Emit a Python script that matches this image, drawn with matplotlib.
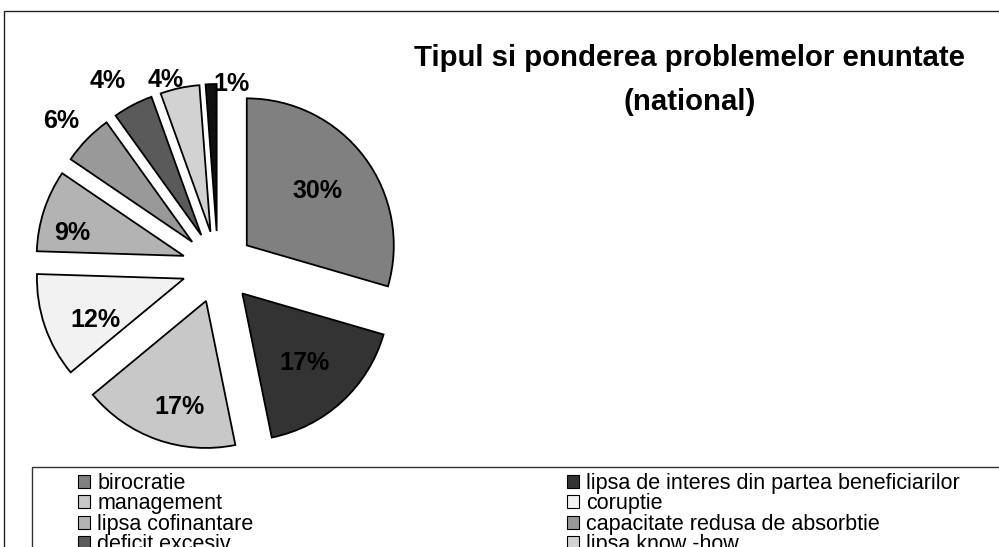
import numpy as np
import matplotlib
matplotlib.use("Agg")
import matplotlib.pyplot as plt
from matplotlib.patches import Rectangle, Patch

categories = ["birocratie", "lipsa de interes din partea beneficiarilor", "management", "coruptie",
              "lipsa cofinantare", "capacitate redusa de absorbtie", "deficit excesiv",
              "lipsa know -how", "altele"]
shares = [29.5, 17.3, 17.2, 11.5, 9.0, 5.6, 4.4, 4.3, 1.2]
colors = ["#808080", "#333333", "#c8c8c8", "#f2f2f2", "#b3b3b3", "#999999", "#5a5a5a", "#d2d2d2", "#101010"]
title = "Tipul si ponderea problemelor enuntate\n(national)"

# label placement: distance (fraction of radius) from wedge centre, angle offset (deg)
label_dist = [0.62, 0.62, 0.73, 0.66, 0.78, 1.22, 1.24, 1.09, 1.02]
label_rot = [2, 0, 5, 5, 5, 1, 3, 4, -8]

FONT = ["Liberation Sans", "DejaVu Sans"]
W, H = 999, 547
fig = plt.figure(figsize=(W / 100, H / 100), dpi=100)
ax = fig.add_axes([0, 0, 1, 1])
R = 147
cx, cy = 218, H - 267
wedges, _ = ax.pie(shares, colors=colors, startangle=90, counterclock=False, radius=R,
                   center=(cx, cy), explode=[36] * len(shares),
                   wedgeprops=dict(edgecolor="black", linewidth=1.3), frame=False)
ax.set_xlim(0, W)
ax.set_ylim(0, H)
ax.set_aspect("auto")
ax.axis("off")

for w, v, d, r in zip(wedges, shares, label_dist, label_rot):
    mid = np.deg2rad((w.theta1 + w.theta2) / 2 + r)
    x0, y0 = w.center
    ax.text(x0 + d * R * np.cos(mid), y0 + d * R * np.sin(mid), f"{v:.0f}%",
            ha="center", va="center_baseline", fontsize=18, fontweight="bold", family=FONT)

fig.text(690 / W, 1 - 80 / H, title, ha="center", va="center", fontsize=21.2,
         fontweight="bold", family=FONT, linespacing=1.75)

# outer chart border and legend frame (both run past the cropped edges)
fig.add_artist(Rectangle((4 / W, -0.2), 1.0, (1 - 11 / H) + 0.2, transform=fig.transFigure,
                         fill=False, edgecolor="#222222", linewidth=1.0))
fig.add_artist(Rectangle((32 / W, -0.2), 1.0, (1 - 467 / H) + 0.2, transform=fig.transFigure,
                         fill=False, edgecolor="#333333", linewidth=1.0))

handles = [Patch(facecolor=c, edgecolor="black", linewidth=0.8) for c in colors]
common = dict(loc="upper left", frameon=False, handlelength=0.55, handleheight=0.55,
              handletextpad=0.35, labelspacing=-0.03, borderpad=0, borderaxespad=0,
              bbox_transform=fig.transFigure, prop={"family": FONT, "size": 15.5})
idx1 = list(range(0, len(categories), 2))
idx2 = list(range(1, len(categories), 2))
fig.legend([handles[i] for i in idx1], [categories[i] for i in idx1],
           bbox_to_anchor=(78 / W, 1 - 473 / H), **common)
fig.legend([handles[i] for i in idx2], [categories[i] for i in idx2],
           bbox_to_anchor=(567 / W, 1 - 473 / H), **common)

fig.savefig("out.png", dpi=100)
